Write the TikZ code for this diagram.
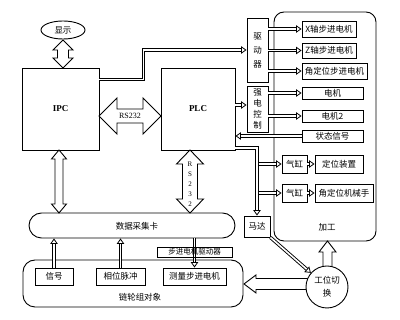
\documentclass[tikz,border=0pt]{standalone}
\usepackage{fontspec}
\setmainfont{Liberation Serif}
\newfontfamily\cjk{Noto Sans CJK SC}
\usetikzlibrary{arrows.meta,calc,shapes.geometric}
\newcommand\VDArrow[6]{% x, ytop, ybot, shaft half, head half, head length
  \draw[blk] (#1,#2) -- ({#1+#5},{#2+#6}) -- ({#1+#4},{#2+#6}) -- ({#1+#4},{#3-#6}) -- ({#1+#5},{#3-#6}) -- (#1,#3)
    -- ({#1-#5},{#3-#6}) -- ({#1-#4},{#3-#6}) -- ({#1-#4},{#2+#6}) -- ({#1-#5},{#2+#6}) -- cycle;}
\newcommand\HDArrow[6]{% xleft, xright, y, shaft half, head half, head length
  \draw[blk] (#1,#3) -- ({#1+#6},{#3-#5}) -- ({#1+#6},{#3-#4}) -- ({#2-#6},{#3-#4}) -- ({#2-#6},{#3-#5}) -- (#2,#3)
    -- ({#2-#6},{#3+#5}) -- ({#2-#6},{#3+#4}) -- ({#1+#6},{#3+#4}) -- ({#1+#6},{#3+#5}) -- cycle;}
\tikzset{
  box/.style={draw, line width=0.9pt, inner sep=0pt, fill=white, font=\cjk\fontsize{8.5}{10}\selectfont},
  conn/.style={double, double distance=1.6pt, line width=0.9pt,
    -{Triangle[open,length=5.5pt,width=7.5pt,line width=0.8pt]}},
  blk/.style={draw, line width=0.9pt, fill=white, line join=miter},
  lbl/.style={font=\cjk\fontsize{8.5}{10}\selectfont, inner sep=0pt},
  latin/.style={font=\fontsize{9}{10}\selectfont\bfseries, inner sep=0pt},
}
\begin{document}
\begin{tikzpicture}[x=1pt,y=-1pt]
\useasboundingbox[fill=white] (0,0) rectangle (400,320);

% block arrows
\VDArrow{63}{40}{68}{5.5}{10}{10}
\HDArrow{99}{161}{116}{7}{18}{18}
\node[font=\fontsize{8}{9}\selectfont, inner sep=0pt] (rs1) at (130,116) {RS232};
\VDArrow{59}{150}{213}{4}{7.5}{9}
\VDArrow{190}{150}{213}{7.5}{13.5}{14}
\node[align=center, inner sep=0pt, font=\fontsize{7}{10}\selectfont] (rs2) at (190,184) {R\\S\\2\\3\\2};
% up arrow from circle to 加工
\draw[blk] (327.5,241) -- (336,252) -- (332,252) -- (332,272) -- (323,272) -- (323,252) -- (319,252) -- cycle;
% left arrow from circle to object
\draw[blk] (244,284) -- (256,275) -- (256,278.5) -- (310,278.5) -- (310,289.5) -- (256,289.5) -- (256,293) -- cycle;

% nodes
\node[box, ellipse, minimum width=44pt, minimum height=18pt] (disp) at (63,30) {显示};
\node[box, fill=none, minimum width=77pt, minimum height=82pt, latin] (ipc) at (60.5,109) {IPC};
\node[box, fill=none, minimum width=74pt, minimum height=82pt, latin] (plc) at (198,109) {PLC};
\node[box, minimum width=21pt, minimum height=64pt, align=center, font=\cjk\fontsize{8.5}{14}\selectfont] (drv) at (257.5,50) {驱\\动\\器};
\node[box, minimum width=21pt, minimum height=46pt, align=center, font=\cjk\fontsize{8.5}{11}\selectfont] (qd) at (257.5,109) {强\\电\\控\\制};
\node[draw, line width=0.9pt, rounded corners=10pt, minimum width=102pt, minimum height=229pt] (jg) at (325,126.5) {};
\node[lbl] (jgl) at (327,227) {加工};
\node[box, minimum width=54pt, minimum height=16pt] (xm) at (329,29) {X轴步进电机};
\node[box, minimum width=54pt, minimum height=15pt] (zm) at (329,50.5) {Z轴步进电机};
\node[box, minimum width=65pt, minimum height=16pt] (jm) at (334.5,71) {角定位步进电机};
\node[box, minimum width=61pt, minimum height=12pt] (dj) at (332.5,93) {电机};
\node[box, minimum width=61pt, minimum height=12pt] (dj2) at (332.5,116) {电机2};
\node[box, minimum width=61pt, minimum height=12pt] (zt) at (332.5,136) {状态信号};
\node[box, minimum width=25pt, minimum height=18pt] (qg1) at (294.5,164) {气缸};
\node[box, minimum width=48pt, minimum height=18pt] (dw) at (339,164) {定位装置};
\node[box, minimum width=25pt, minimum height=18pt] (qg2) at (294.5,193) {气缸};
\node[box, minimum width=58pt, minimum height=18pt] (jx) at (344,193) {角定位机械手};
\node[box, minimum width=26pt, minimum height=21pt] (md) at (257,226.5) {马达};
\node[box, circle, minimum size=42pt, align=center, font=\cjk\fontsize{8.5}{13}\selectfont] (gw) at (327,287) {工位切\\换};
\node[box, fill=none, rounded corners=12.5pt, minimum width=206pt, minimum height=25pt] (card) at (132,225.5) {};
\node[lbl] (cardl) at (137,226) {数据采集卡};
\node[box, fill=none, rounded corners=12pt, minimum width=220pt, minimum height=47pt] (obj) at (133,283.5) {};
\node[lbl] (objl) at (140,297) {链轮组对象};
\node[box, minimum width=38pt, minimum height=17pt] (xh) at (54,276.5) {信号};
\node[box, minimum width=49pt, minimum height=17pt] (xw) at (120.5,276.5) {相位脉冲};
\node[box, minimum width=63pt, minimum height=17pt] (cl) at (194.5,276.5) {测量步进电机};

% connectors
\draw[conn] ($(ipc.north east)+(0,12)$) -- ++(44,0) |- (drv.west);
\draw[conn] (drv.east |- xm.west) -- (xm.west);
\draw[conn] (drv.east |- zm.west) -- (zm.west);
\draw[conn] (drv.east |- jm.west) -- (jm.west);
\draw[conn] (qd.east |- dj.west) -- (dj.west);
\draw[conn] (qd.east |- dj2.west) -- (dj2.west);
\draw[conn] (zt.west) -- (plc.east |- zt.west);
\draw[conn] (plc.east |- 0,105) -- (qd.west |- 0,105);
\draw[conn] (plc.east |- 0,148) -| (md.north);
\draw[conn] ([xshift=1.7pt]md.north |- qg1.west) -- (qg1.west);
\draw[conn] ([xshift=1.7pt]md.north |- qg2.west) -- (qg2.west);
\draw[conn] (qg1.east) -- (dw.west);
\draw[conn] (qg2.east) -- (jx.west);
\draw[conn] (md.south east) -- (gw);
\draw[conn] (xh.north) -- (xh.north |- card.south);
\draw[conn] (xw.north) -- (xw.north |- card.south);
\draw[conn] (card.south -| cl.north) -- (cl.north);
\node[draw, line width=0.7pt, inner sep=0pt, minimum width=75pt, minimum height=10pt, font=\cjk\fontsize{7.5}{8}\selectfont] (bj) at (194.5,252) {步进电机驱动器};
\end{tikzpicture}
\end{document}
